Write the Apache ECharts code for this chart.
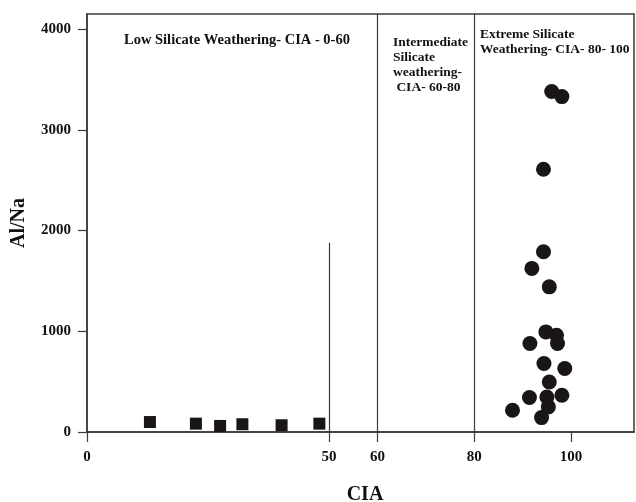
<!DOCTYPE html>
<html>
<head>
<meta charset="utf-8">
<script src="https://cdn.jsdelivr.net/npm/echarts@6/dist/echarts.min.js"></script>
<style>
  html, body { margin: 0; padding: 0; background: #fff; }
  #chart { width: 636px; height: 502px; }
</style>
</head>
<body>
<div id="chart"></div>
<script>
// Low-weathering samples (squares): CIA vs Al/Na
const lowCIA  = [13.0, 22.5, 27.5, 32.1, 40.2, 48.0];
const lowAlNa = [99, 83, 60, 77, 67, 83];

// Extreme-weathering samples (circles): CIA vs Al/Na
const highCIA  = [96.0, 98.1, 94.3, 94.3, 91.9, 95.5, 94.8, 97.0, 91.5, 97.2,
                  94.4, 98.7, 95.5, 91.4, 95.0, 98.1, 95.3, 87.9, 93.9];
const highAlNa = [3380, 3330, 2608, 1789, 1624, 1441, 994, 961, 879, 879,
                  680, 630, 497, 342, 348, 365, 249, 216, 143];

// Axis ticks and weathering-zone boundaries
const xTicks = [0, 50, 60, 80, 100];
const yTicks = [0, 1000, 2000, 3000, 4000];
const zoneBounds = [60, 80];
const partialBound = { cia: 50, top: 1880 };

// Zone annotations
const zoneTexts = [
  'Low Silicate Weathering- CIA - 0-60',
  'Intermediate\nSilicate\nweathering-\n CIA- 60-80',
  'Extreme Silicate\nWeathering- CIA- 80- 100'
];

const serif = 'Liberation Serif, Times New Roman, serif';
const ink = '#1a1616';
const lineCol = '#3a3a3a';

const chart = echarts.init(document.getElementById('chart'), null, { renderer: 'canvas' });

const lineStyle = { color: lineCol, width: 1.2, type: 'solid' };
const plain = v => String(v);

chart.setOption({
  animation: false,
  backgroundColor: '#ffffff',
  grid: {
    left: 87, right: 2, top: 14, bottom: 70,
    outerBoundsMode: 'none',
    containLabel: false,
    show: true, borderColor: lineCol, borderWidth: 1.5
  },
  xAxis: {
    type: 'value', min: 0, max: 113,
    name: 'CIA', nameLocation: 'middle', nameGap: 53,
    nameTextStyle: { fontFamily: serif, fontWeight: 'bold', fontSize: 20, color: '#111', padding: [0, 0, 0, 9] },
    axisLine: { show: true, onZero: false, lineStyle: { color: lineCol, width: 1.5 } },
    axisTick: { show: true, inside: false, length: 10, customValues: xTicks, lineStyle: { color: lineCol, width: 1.2 } },
    axisLabel: { customValues: xTicks, formatter: plain, margin: 18, fontFamily: serif, fontWeight: 'bold', fontSize: 15, color: '#111' },
    splitLine: { show: false }
  },
  yAxis: {
    type: 'value', min: 0, max: 4150,
    name: 'Al/Na', nameLocation: 'middle', nameGap: 58, nameRotate: 90,
    nameTextStyle: { fontFamily: serif, fontWeight: 'bold', fontSize: 20, color: '#111' },
    axisLine: { show: true, onZero: false, lineStyle: { color: lineCol, width: 1.5 } },
    axisTick: { show: true, inside: false, length: 9, customValues: yTicks, lineStyle: { color: lineCol, width: 1.2 } },
    axisLabel: { customValues: yTicks, formatter: plain, margin: 16, fontFamily: serif, fontWeight: 'bold', fontSize: 15, color: '#111' },
    splitLine: { show: false }
  },
  series: [
    {
      name: 'low', type: 'scatter', symbol: 'rect', symbolSize: 12,
      itemStyle: { color: ink, opacity: 1 },
      data: lowCIA.map((x, i) => [x, lowAlNa[i]]),
      markLine: {
        silent: true, symbol: 'none', label: { show: false },
        lineStyle: lineStyle,
        data: [
          ...zoneBounds.map(v => ({ xAxis: v })),
          [{ coord: [partialBound.cia, 0] }, { coord: [partialBound.cia, partialBound.top] }]
        ]
      }
    },
    {
      name: 'high', type: 'scatter', symbol: 'circle', symbolSize: 15,
      itemStyle: { color: ink, opacity: 1 },
      data: highCIA.map((x, i) => [x, highAlNa[i]])
    }
  ],
  graphic: [
    { type: 'text', left: 124, top: 33,
      style: { text: zoneTexts[0], font: 'bold 14.5px ' + serif, fill: '#111' } },
    { type: 'text', left: 393, top: 35,
      style: { text: zoneTexts[1], font: 'bold 13.5px ' + serif, fill: '#111', lineHeight: 15 } },
    { type: 'text', left: 480, top: 27,
      style: { text: zoneTexts[2], font: 'bold 13.5px ' + serif, fill: '#111', lineHeight: 15 } }
  ]
});
</script>
</body>
</html>
